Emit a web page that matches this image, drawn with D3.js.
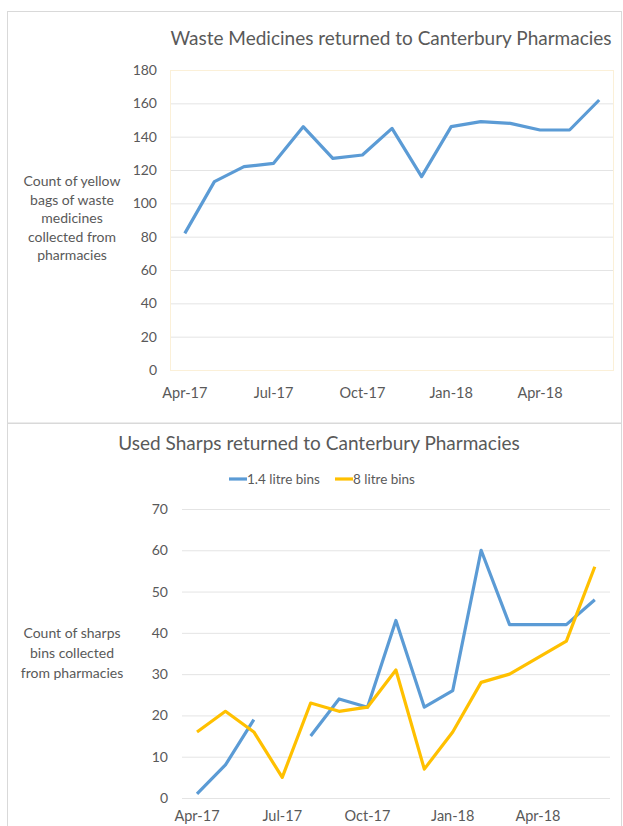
<!DOCTYPE html>
<html><head><meta charset="utf-8">
<script src="https://cdn.jsdelivr.net/npm/d3@7"></script>
<style>
html,body{margin:0;padding:0;background:#fff;}
svg{display:block;font-family:Lato,"Open Sans",sans-serif;}
</style></head>
<body>
<svg id="c" width="623" height="826"></svg>
<script>
const months = ["Apr-17","May-17","Jun-17","Jul-17","Aug-17","Sep-17","Oct-17","Nov-17","Dec-17","Jan-18","Feb-18","Mar-18","Apr-18","May-18","Jun-18"];
const shownMonths = ["Apr-17","Jul-17","Oct-17","Jan-18","Apr-18"];
const wasteBags = [82,113,122,124,146,127,129,145,116,146,149,148,144,144,162];
const sharps14 = [1,8,19,null,15,24,22,43,22,26,60,42,42,42,48];
const sharps8 = [16,21,16,5,23,21,22,31,7,16,28,30,34,38,56];
const wasteTicks = [0,20,40,60,80,100,120,140,160,180];
const sharpsTicks = [0,10,20,30,40,50,60,70];
const seriesNames = ["1.4 litre bins","8 litre bins"];

const BLUE = "#5b9bd5", YELLOW = "#ffc000", TXT = "#595959", GRID = "#e4e4e4";
const svg = d3.select("#c");
svg.append("rect").attr("width",623).attr("height",826).attr("fill","#fff");

// panels
svg.append("rect").attr("x",7.5).attr("y",11.5).attr("width",614).attr("height",411.5)
  .attr("fill","#fff").attr("stroke","#d9d9d9");
svg.append("rect").attr("x",7.5).attr("y",423.5).attr("width",614).attr("height",420)
  .attr("fill","#fff").attr("stroke","#d9d9d9");

function yTitle(lines, cx, y0, dy, fs){
  const t = svg.append("text").attr("text-anchor","middle").attr("fill",TXT).attr("font-size",fs);
  lines.forEach((l,i)=>t.append("tspan").attr("x",cx).attr("y",y0+i*dy).text(l));
}

// ---------- Top chart ----------
{
  const x = d3.scaleBand().domain(months).range([170,614]).padding(0);
  const y = d3.scaleLinear().domain([0,180]).range([370,70]);
  const g = svg.append("g");
  const grid = g.append("g").attr("transform","translate(170,0)")
    .call(d3.axisLeft(y).tickValues(wasteTicks).tickSize(-444).tickFormat(""));
  grid.select(".domain").remove();
  grid.selectAll("line").attr("stroke",GRID);
  g.append("rect").attr("x",170.5).attr("y",y(180)+0.5).attr("width",443).attr("height",y(0)-y(180))
    .attr("fill","none").attr("stroke","#fbf0d8");
  const ya = g.append("g").attr("transform","translate(157,0)")
    .call(d3.axisLeft(y).tickValues(wasteTicks).tickSize(0).tickPadding(0));
  ya.select(".domain").remove();
  ya.selectAll("text").attr("fill",TXT).attr("font-size",14).attr("font-family","Lato");
  const xa = g.append("g").attr("transform","translate(0,385)")
    .call(d3.axisBottom(x).tickValues(shownMonths).tickSize(0).tickPadding(0));
  xa.select(".domain").remove();
  xa.selectAll("text").attr("fill",TXT).attr("font-size",14.5).attr("font-family","Lato").attr("dy","0.9em");
  const line = d3.line().x((d,i)=>x(months[i])+x.bandwidth()/2).y(d=>y(d));
  g.append("path").datum(wasteBags).attr("d",line).attr("fill","none")
    .attr("stroke",BLUE).attr("stroke-width",3.2).attr("stroke-linejoin","round");
  svg.append("text").attr("x",391).attr("y",45).attr("text-anchor","middle")
    .attr("fill",TXT).attr("font-size",19).text("Waste Medicines returned to Canterbury Pharmacies");
  yTitle(["Count of yellow","bags of waste","medicines","collected from","pharmacies"],72,186,18.5,14);
}

// ---------- Bottom chart ----------
{
  const x = d3.scaleBand().domain(months).range([182.8,609]).padding(0);
  const y = d3.scaleLinear().domain([0,70]).range([798,509]);
  const g = svg.append("g");
  const grid = g.append("g").attr("transform","translate(182,0)")
    .call(d3.axisLeft(y).tickValues(sharpsTicks).tickSize(-428).tickFormat(""));
  grid.select(".domain").remove();
  grid.selectAll("line").attr("stroke",GRID);
  const ya = g.append("g").attr("transform","translate(168,0)")
    .call(d3.axisLeft(y).tickValues(sharpsTicks).tickSize(0).tickPadding(0));
  ya.select(".domain").remove();
  ya.selectAll("text").attr("fill",TXT).attr("font-size",14).attr("font-family","Lato");
  const xa = g.append("g").attr("transform","translate(0,808)")
    .call(d3.axisBottom(x).tickValues(shownMonths).tickSize(0).tickPadding(0));
  xa.select(".domain").remove();
  xa.selectAll("text").attr("fill",TXT).attr("font-size",14.5).attr("font-family","Lato").attr("dy","0.9em");
  const line = d3.line().defined(d=>d!=null).x((d,i)=>x(months[i])+x.bandwidth()/2).y(d=>y(d));
  g.append("path").datum(sharps14).attr("d",line).attr("fill","none")
    .attr("stroke",BLUE).attr("stroke-width",3.2).attr("stroke-linejoin","round");
  g.append("path").datum(sharps8).attr("d",line).attr("fill","none")
    .attr("stroke",YELLOW).attr("stroke-width",3.2).attr("stroke-linejoin","round");
  svg.append("text").attr("x",319).attr("y",450).attr("text-anchor","middle")
    .attr("fill",TXT).attr("font-size",19).text("Used Sharps returned to Canterbury Pharmacies");
  const leg = svg.append("g");
  const items = [{name:seriesNames[0],c:BLUE,x:229},{name:seriesNames[1],c:YELLOW,x:335}];
  items.forEach(it=>{
    leg.append("line").attr("x1",it.x).attr("x2",it.x+18).attr("y1",479).attr("y2",479)
      .attr("stroke",it.c).attr("stroke-width",3.2);
    leg.append("text").attr("x",it.x+18).attr("y",484).attr("fill",TXT).attr("font-size",13.5).text(it.name);
  });
  yTitle(["Count of sharps","bins collected","from pharmacies"],72,638,20,14);
}
</script>
</body></html>
